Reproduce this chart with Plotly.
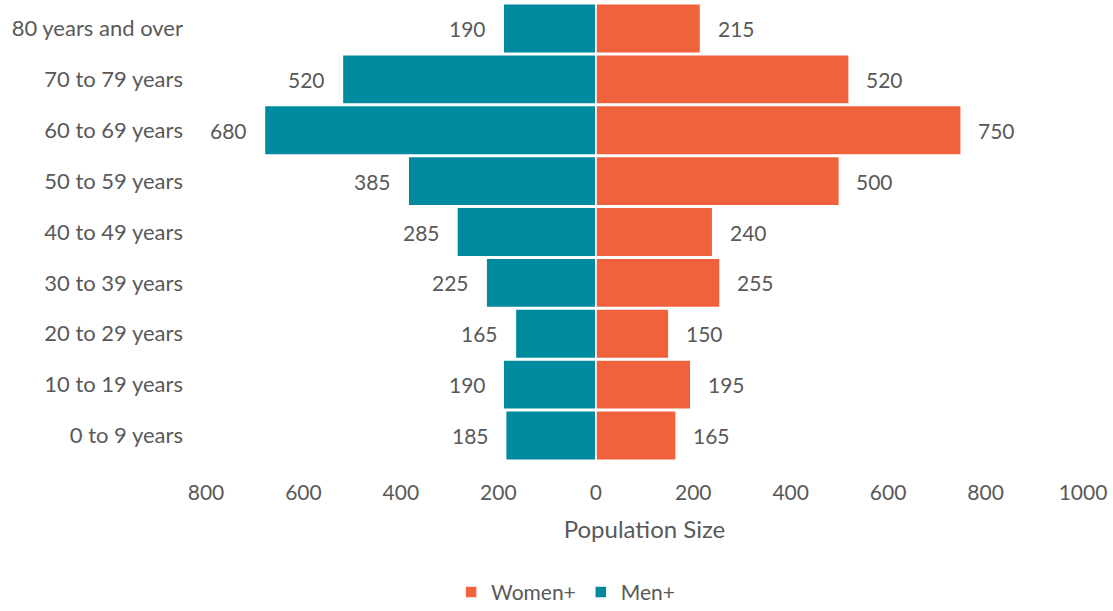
import plotly.graph_objects as go

categories = ["0 to 9 years", "10 to 19 years", "20 to 29 years", "30 to 39 years",
              "40 to 49 years", "50 to 59 years", "60 to 69 years", "70 to 79 years",
              "80 years and over"]
men = [185, 190, 165, 225, 285, 385, 680, 520, 190]
women = [165, 195, 150, 255, 240, 500, 750, 520, 215]
tick_vals = [-800, -600, -400, -200, 0, 200, 400, 600, 800, 1000]
tick_text = ["800", "600", "400", "200", "0", "200", "400", "600", "800", "1000"]

TEAL = "#008A9E"
ORANGE = "#F0623C"
GREY = "#595959"
FONT = "Lato"

fig = go.Figure()
fig.add_trace(go.Bar(y=categories, x=women, orientation="h", name="Women+",
                     marker=dict(color=ORANGE, line=dict(color="white", width=1.5)),
                     hoverinfo="skip"))
fig.add_trace(go.Bar(y=categories, x=[-v for v in men], orientation="h", name="Men+",
                     marker=dict(color=TEAL, line=dict(color="white", width=1.5)),
                     hoverinfo="skip"))

annotations = []
for c, v in zip(categories, women):
    annotations.append(dict(x=v, y=c, xref="x", yref="y", text=str(v), showarrow=False,
                            xanchor="left", xshift=15, font=dict(size=21, color=GREY, family=FONT)))
for c, v in zip(categories, men):
    annotations.append(dict(x=-v, y=c, xref="x", yref="y", text=str(v), showarrow=False,
                            xanchor="right", xshift=-15, font=dict(size=21, color=GREY, family=FONT)))

fig.update_layout(
    width=1113, height=611,
    margin=dict(l=206, r=30, t=3, b=150, autoexpand=False),
    barmode="overlay", bargap=0.03,
    plot_bgcolor="white", paper_bgcolor="white",
    font=dict(family=FONT, size=21, color=GREY),
    annotations=annotations,
    legend=dict(orientation="h", xref="paper", x=0.41, xanchor="center",
                yref="paper", y=-0.287, yanchor="middle", traceorder="normal",
                font=dict(size=21, color=GREY, family=FONT)),
    xaxis=dict(range=[-800, 1000], tickvals=tick_vals, ticktext=tick_text,
               showgrid=False, zeroline=True, zerolinecolor="#D9D9D9", zerolinewidth=1.5,
               ticklabelstandoff=17, automargin=False,
               title=dict(text="Population Size", standoff=18,
                          font=dict(size=24, color=GREY, family=FONT)),
               tickfont=dict(size=21, color=GREY, family=FONT)),
    yaxis=dict(showgrid=False, ticklabelstandoff=22, automargin=False,
               tickfont=dict(size=22, color=GREY, family=FONT)),
)

fig.write_html("out.html")
